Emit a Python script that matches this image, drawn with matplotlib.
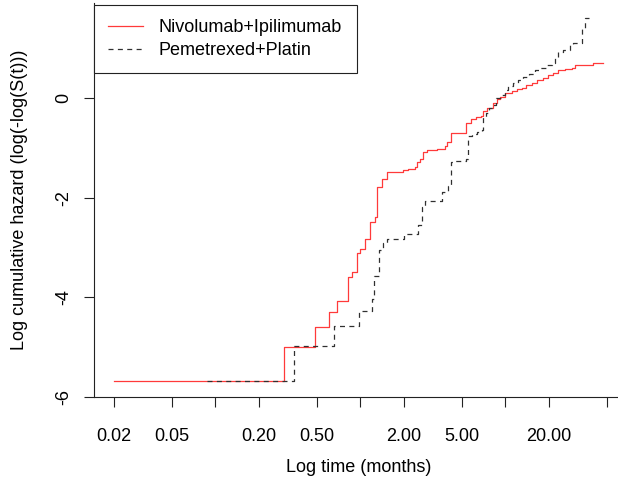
import matplotlib
matplotlib.use("Agg")
import matplotlib.pyplot as plt
from matplotlib.ticker import NullLocator

plt.rcParams['font.family'] = ['Liberation Sans', 'DejaVu Sans']

# log(-log(S(t))) step values, time in months
nivo_t = [0.02, 0.299, 0.489, 0.611, 0.693, 0.826, 0.879, 0.944, 1.00, 1.077,
          1.166, 1.262, 1.297, 1.404, 1.520, 1.781, 1.98, 2.13, 2.38, 2.47,
          2.58, 2.72, 2.87, 3.36, 3.84, 3.98, 4.20, 5.35, 5.77, 6.28,
          6.77, 6.98, 7.50, 8.26, 8.70, 9.18, 9.95, 11.07, 11.98, 12.96,
          13.88, 15.19, 16.45, 18.27, 19.78, 21.42, 23.19, 25.79, 28.68, 30.2,
          40.4]
nivo_v = [-5.68, -5.00, -4.60, -4.29, -4.08, -3.60, -3.49, -3.12, -3.04, -2.83,
          -2.48, -2.39, -1.78, -1.63, -1.49, -1.48, -1.44, -1.42, -1.39, -1.28,
          -1.22, -1.07, -1.04, -1.01, -0.95, -0.87, -0.69, -0.50, -0.42, -0.38,
          -0.35, -0.26, -0.20, -0.10, -0.02, 0.03, 0.10, 0.15, 0.18, 0.20,
          0.27, 0.31, 0.37, 0.41, 0.47, 0.52, 0.57, 0.59, 0.62, 0.67,
          0.72]
nivo_end = 47.4

chemo_t = [0.0875, 0.350, 0.653, 0.984, 1.197, 1.242, 1.351, 1.439, 1.538, 1.995,
           2.48, 2.65, 2.81, 3.64, 4.04, 4.20, 4.50, 5.35, 5.55, 5.86,
           6.34, 6.87, 7.05, 7.36, 7.75, 8.26, 8.61, 9.44, 9.95, 10.48,
           11.35, 12.28, 13.30, 14.62, 16.00, 17.33, 19.28, 20.89, 21.98, 23.19,
           25.1, 27.9, 29.1, 34.0, 35.7]
chemo_v = [-5.68, -4.98, -4.58, -4.28, -4.04, -3.57, -3.06, -2.92, -2.84, -2.72,
           -2.55, -2.18, -2.06, -1.88, -1.76, -1.28, -1.26, -1.22, -0.76, -0.72,
           -0.67, -0.64, -0.37, -0.30, -0.20, -0.13, 0.0, 0.07, 0.17, 0.25,
           0.31, 0.38, 0.43, 0.50, 0.57, 0.62, 0.68, 0.72, 0.84, 0.94,
           0.97, 1.07, 1.11, 1.41, 1.61]
chemo_end = 38.0

labels = ["Nivolumab+Ipilimumab", "Pemetrexed+Platin"]
xticks = [0.02, 0.05, 0.1, 0.2, 0.5, 1, 2, 5, 10, 20, 50]
xticklabels = ["0.02", "0.05", "", "0.20", "0.50", "", "2.00", "5.00", "", "20.00", ""]
yticks = [-6, -4, -2, 0]
yticklabels = ["-6", "-4", "-2", "0"]

W, H = 618, 486
fig = plt.figure(figsize=(W / 100, H / 100), dpi=100)
ax = fig.add_axes([94 / W, 1 - 396.5 / H, 530 / W, 393.5 / H])

ax.step(nivo_t + [nivo_end], nivo_v + [nivo_v[-1]], where='post',
        color='#ff3a3a', lw=0.9, label=labels[0])
ax.step(chemo_t + [chemo_end], chemo_v + [chemo_v[-1]], where='post',
        color='#303030', lw=0.9, ls=(0, (4, 3.5)), label=labels[1])

ax.set_xscale('log')
ax.set_xlim(0.01455, 65.8)
ax.set_ylim(-6.0, 1.92)
ax.xaxis.set_minor_locator(NullLocator())
ax.set_xticks(xticks)
ax.set_xticklabels(xticklabels)
ax.set_yticks(yticks)
ax.set_yticklabels(yticklabels, rotation=90, va='center')

for side in ['top', 'right']:
    ax.spines[side].set_visible(False)
for side in ['left', 'bottom']:
    ax.spines[side].set_linewidth(0.8)
    ax.spines[side].set_color('#222222')

ax.tick_params(direction='out', length=7, width=0.8, color='#222222',
               labelsize=13)
ax.tick_params(axis='x', pad=16)
ax.tick_params(axis='y', pad=8.5)

leg = ax.legend(loc='upper left', bbox_to_anchor=(0, 0.995), borderaxespad=0,
                fancybox=False, edgecolor='#222222', framealpha=1, fontsize=13,
                handlelength=1.9, handletextpad=0.9, borderpad=0.8,
                labelspacing=0.3)
leg.get_frame().set_linewidth(0.8)

fig.text(359 / W, 1 - 467 / H, "Log time (months)", ha='center', va='center',
         fontsize=13)
fig.text(20 / W, 1 - 200 / H, "Log cumulative hazard (log(-log(S(t)))",
         rotation=90, ha='center', va='center', fontsize=13)

fig.savefig("out.png", dpi=100)
